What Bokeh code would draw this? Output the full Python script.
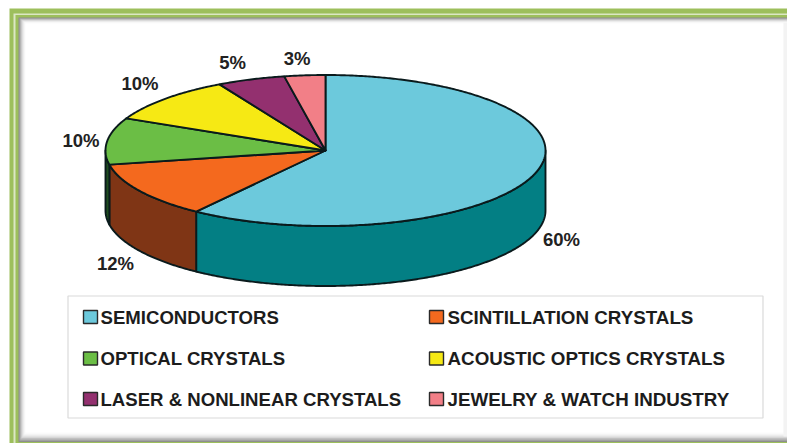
import math
from bokeh.plotting import figure
from bokeh.models import Range1d
from bokeh.core.properties import value
from bokeh.embed import file_html
from bokeh.resources import INLINE

categories = ["SEMICONDUCTORS", "SCINTILLATION CRYSTALS", "OPTICAL CRYSTALS",
              "ACOUSTIC OPTICS CRYSTALS", "LASER & NONLINEAR CRYSTALS", "JEWELRY & WATCH INDUSTRY"]
shares = [60, 12, 10, 10, 5, 3]
labels = ["60%", "12%", "10%", "10%", "5%", "3%"]
top_colors = ["#6CC9DC", "#F4691E", "#6BBE45", "#F6E914", "#93306F", "#F27F87"]
side_colors = ["#037F84", "#7F3515", "#1F4D1F", "#8A8410", "#551A40", "#8A4A4E"]

label_x = [561, 115, 80.5, 139.5, 232, 296.5]
label_y = [239, 263, 140, 83, 62, 58]

legend_col_x = [83, 429, 83, 429, 83, 429]
legend_row_y = [316.5, 316.5, 358, 358, 398.5, 398.5]

W, H = 787, 443
CX, CY, RX, RY, DEPTH = 325, 150, 220, 75.5, 60
FONT = value("Liberation Sans")

p = figure(width=W, height=H, output_backend="svg", toolbar_location=None,
           x_range=Range1d(0, W), y_range=Range1d(H, 0), min_border=0,
           background_fill_color="white", border_fill_color="white")
p.axis.visible = False
p.grid.visible = False
p.outline_line_color = None
p.styles = {"position": "absolute", "left": "0px", "top": "0px"}


def pt(deg, dy=0.0):
    r = math.radians(deg)
    return CX + RX * math.sin(r), CY - RY * math.cos(r) + dy


# frame
p.quad(left=[9], right=[W], top=[8], bottom=[H], fill_color="#9DBF5C", line_color=None)
p.quad(left=[13], right=[W], top=[13], bottom=[H], fill_color="#DCE7C4", line_color=None)
p.quad(left=[15], right=[W], top=[14.5], bottom=[H], fill_color="#9DBF5C", line_color=None)
for i, c in enumerate(["#8E8E8E", "#A8A8A8", "#C0C0C0", "#D6D6D6", "#E6E6E6", "#F2F2F2", "#FAFAFA"]):
    p.quad(left=[18 + i], right=[W], top=[17 + i * 0.8], bottom=[441.5 - i * 1.3],
           fill_color=c, line_color=None)
p.quad(left=[25], right=[783], top=[23], bottom=[432], fill_color="white", line_color=None)
p.quad(left=[783], right=[W], top=[22], bottom=[436], fill_color="#F3F3F3", line_color=None)

# slice angles, clockwise from the top
angles = [0.0]
for s in shares:
    angles.append(angles[-1] + s * 3.6)

# side wall
for i, s in enumerate(shares):
    a0, a1 = max(angles[i], 90.0), min(angles[i + 1], 270.0)
    if a0 >= a1:
        continue
    n = max(int((a1 - a0) * 2), 2)
    arc = [a0 + (a1 - a0) * k / n for k in range(n + 1)]
    top = [pt(a) for a in arc]
    bot = [pt(a, DEPTH) for a in reversed(arc)]
    p.patch([q[0] for q in top + bot], [q[1] for q in top + bot],
            fill_color=side_colors[i], line_color="#0A1A1C", line_width=1.9, line_join="round")

# top face
for i, s in enumerate(shares):
    a0, a1 = angles[i], angles[i + 1]
    n = max(int((a1 - a0) * 2), 2)
    arc = [pt(a0 + (a1 - a0) * k / n) for k in range(n + 1)]
    p.patch([CX] + [q[0] for q in arc], [CY] + [q[1] for q in arc],
            fill_color=top_colors[i], line_color="#0A1A1C", line_width=1.9, line_join="round")

# value labels
p.text(x=label_x, y=label_y, text=labels, text_align="center", text_baseline="middle",
       text_font=FONT, text_font_style="bold", text_font_size="18.5px", text_color="#222222")

# legend box
p.quad(left=[67.5], right=[762.5], top=[295.5], bottom=[417.5], fill_color="white",
       line_color="#DADADA", line_width=1.2)
p.quad(left=legend_col_x, right=[x + 14 for x in legend_col_x],
       top=[y - 6.5 for y in legend_row_y], bottom=[y + 6.5 for y in legend_row_y],
       fill_color=top_colors, line_color="#2A2A2A", line_width=1.4)

# legend texts: the two columns of the reference differ slightly in size
for col, offset, size in ((0, 17, "18.6px"), (1, 18, "18.8px")):
    p.text(x=[x + offset for x in legend_col_x[col::2]], y=legend_row_y[col::2],
           text=categories[col::2], text_align="left", text_baseline="middle",
           text_font=FONT, text_font_style="bold", text_font_size=size, text_color="#1C1C1C")

open("out.html", "w").write(file_html(p, INLINE))
